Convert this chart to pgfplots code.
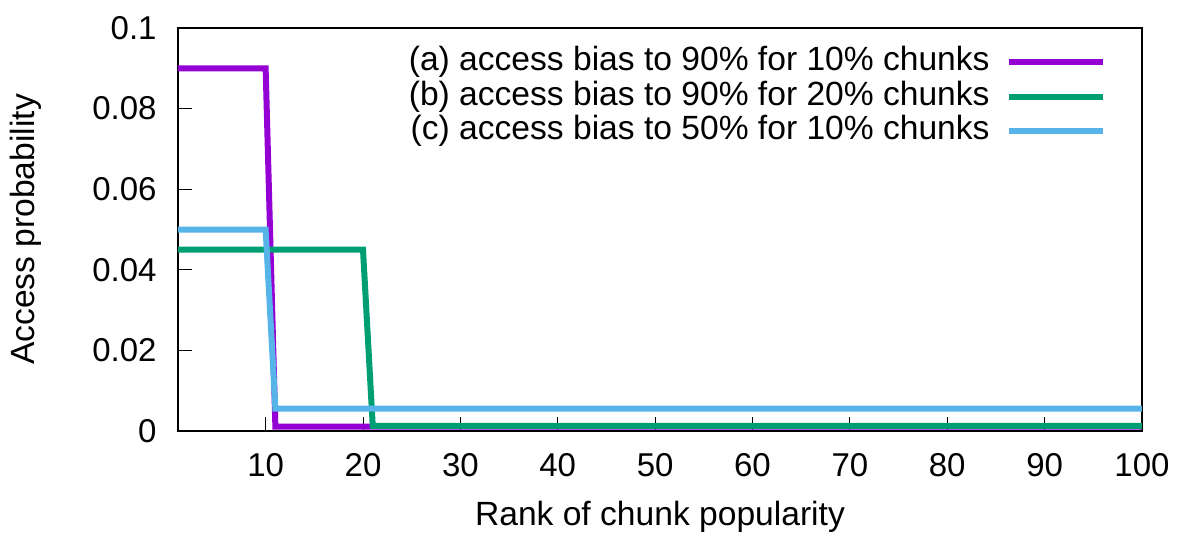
\documentclass[border=0pt]{standalone}
\usepackage{fontspec}
\setmainfont{Liberation Sans}
\usepackage{pgfplots}
\pgfplotsset{compat=1.18}

\definecolor{gpviolet}{HTML}{9400D3}
\definecolor{gpgreen}{HTML}{009E73}
\definecolor{gpblue}{HTML}{56B4E9}

\newcommand\lblfont{\fontsize{16.8pt}{20pt}\selectfont}
\newcommand\tickfont{\fontsize{16.5pt}{20pt}\selectfont}

\begin{document}
\lblfont
\begin{tikzpicture}
\begin{axis}[
  scale only axis,
  width=482pt, height=201.5pt,
  xmin=1, xmax=100, ymin=0, ymax=0.1,
  xtick={10,20,...,100},
  ytick={0,0.02,0.04,0.06,0.08,0.1},
  yticklabels={0,0.02,0.04,0.06,0.08,0.1},
  xtick pos=left, ytick pos=left,
  tick align=inside,
  major tick length=7pt,
  every tick/.style={black, line width=0.5pt},
  axis line style={line width=1pt},
  /pgf/number format/assume math mode=true,
  tick label style={font=\tickfont, inner sep=0pt},
  yticklabel style={anchor=east, xshift=-10.5pt},
  xticklabel style={anchor=base, yshift=-22.5pt},
  xlabel={Rank of chunk popularity},
  ylabel={Access probability},
  label style={font=\lblfont, inner sep=0pt},
  xlabel style={at={(axis description cs:0.5,0)}, anchor=base, yshift=-47pt},
  ylabel style={at={(axis description cs:0,0.5)}, anchor=base, yshift=71.5pt},
  legend plot pos=right,
  legend cell align=right,
  legend image code/.code={\draw[#1] (0pt,0pt) -- (47pt,0pt);},
  legend style={
    at={(0.9627,0.955)}, anchor=north east,
    draw=none, fill=none, inner sep=0pt,
    font=\lblfont,
    row sep=1.75pt,
    /tikz/column sep=8pt,
    nodes={inner sep=0pt, text height=12pt, text depth=3.5pt},
  },
  every axis plot/.append style={line width=3pt, line join=miter},
]
\addplot[gpviolet] coordinates {(1,0.09) (10,0.09) (11,0.00111) (100,0.00111)};
\addlegendentry{(a) access bias to 90\% for 10\% chunks}
\addplot[gpgreen] coordinates {(1,0.045) (20,0.045) (21,0.00125) (100,0.00125)};
\addlegendentry{(b) access bias to 90\% for 20\% chunks}
\addplot[gpblue] coordinates {(1,0.05) (10,0.05) (11,0.00556) (100,0.00556)};
\addlegendentry{(c) access bias to 50\% for 10\% chunks}
\end{axis}
% fixed page frame around the axis box
\useasboundingbox (-89pt,-50.5pt) rectangle (500.5pt,215.5pt);
\end{tikzpicture}
\end{document}
